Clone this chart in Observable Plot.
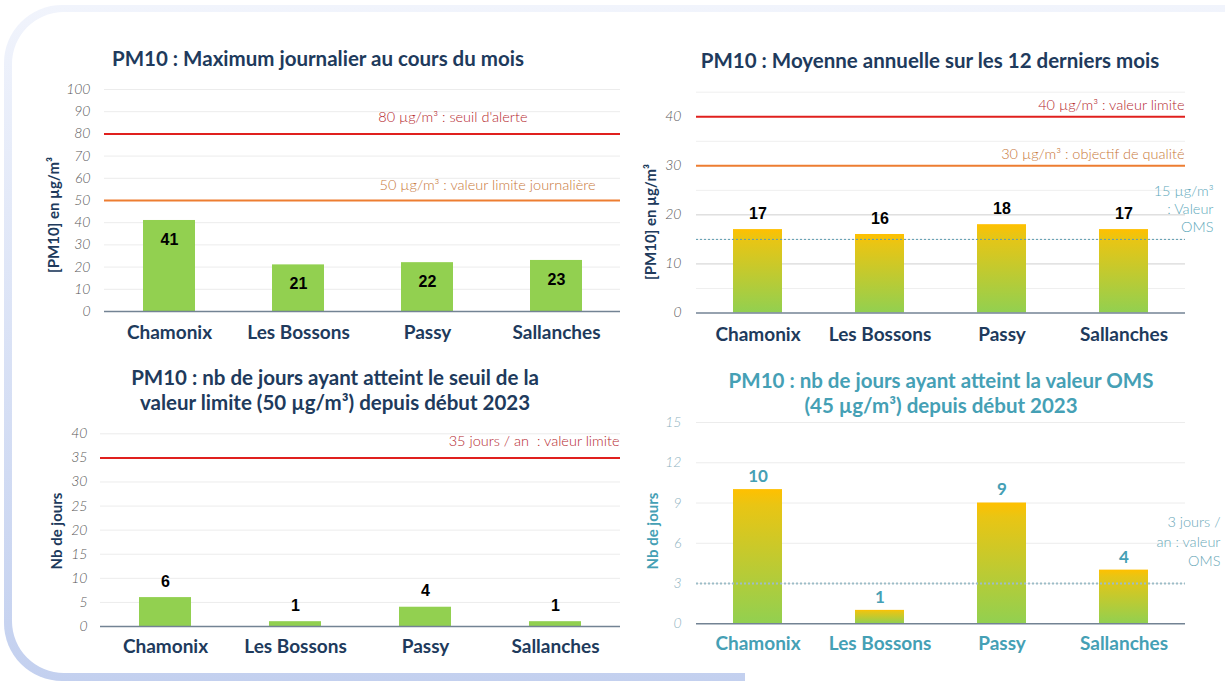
<!DOCTYPE html>
<html><head><meta charset="utf-8">
<script src="https://cdn.jsdelivr.net/npm/d3@7"></script>
<script src="https://cdn.jsdelivr.net/npm/@observablehq/plot@0.6"></script>
<style>
body{margin:0;background:#fff;}
#root{position:relative;width:1225px;height:687px;overflow:hidden;font-family:Lato,"Open Sans",sans-serif;background:#fff;}
.frame-outer{position:absolute;left:4px;top:5px;width:1400px;height:676px;border-radius:58px;background:linear-gradient(#f1f4fc,#c3d0ef);}
.frame-inner{position:absolute;left:12px;top:12px;width:1400px;height:661px;border-radius:52px;background:#fff;}
.frame-cut{position:absolute;left:745px;top:660px;width:500px;height:30px;background:#fff;}
.chart{position:absolute;}
.title{position:absolute;transform:translate(-50%,-50%);white-space:nowrap;font-family:Lato,sans-serif;font-weight:700;font-size:20.5px;color:#203a5c;text-align:center;line-height:25px;}
.ytitle{position:absolute;transform:translate(-50%,-50%) rotate(-90deg);white-space:nowrap;font-family:Lato,sans-serif;font-weight:700;font-size:15px;color:#203a5c;}
</style>
</head><body>
<svg width="0" height="0" style="position:absolute">
  <defs>
    <linearGradient id="gradYG" x1="0" y1="0" x2="0" y2="1">
      <stop offset="0%" stop-color="#ffc000"/>
      <stop offset="12%" stop-color="#e9c514"/>
      <stop offset="100%" stop-color="#92d050"/>
    </linearGradient>
  </defs>
</svg>
<div id="root">
  <div class="frame-outer"></div>
  <div class="frame-inner"></div>
  <div class="frame-cut"></div>
</div>
<script>
// ---- data ----
const stations = ["Chamonix", "Les Bossons", "Passy", "Sallanches"];
const maxJournalier = [41, 21, 22, 23];
const moyenneAnnuelle = [17, 16, 18, 17];
const joursValeurLimite = [6, 1, 4, 1];
const joursOMS = [10, 1, 9, 4];

const ticks1 = [0, 10, 20, 30, 40, 50, 60, 70, 80, 90, 100];
const ticks2 = [0, 10, 20, 30, 40];
const grid2Major = [10, 20];
const grid2Minor = [5, 15, 25, 35, 45];
const ticks3 = [0, 5, 10, 15, 20, 25, 30, 35, 40];
const ticks4 = [0, 3, 6, 9, 12, 15];

const seuils1 = [80, 50];
const seuils1Labels = ["80 µg/m³ : seuil d'alerte", "50 µg/m³ : valeur limite journalière"];
const seuils2 = [40, 30];
const seuils2Labels = ["40 µg/m³ : valeur limite", "30 µg/m³ : objectif de qualité"];
const oms2 = [15];
const oms2Label = ["15 µg/m³\n: Valeur\nOMS"];
const seuils3 = [35];
const seuils3Labels = ["35 jours / an  : valeur limite"];
const oms4 = [3];
const oms4Label = ["3 jours /\nan : valeur\nOMS"];

const titles = [
  "PM10 : Maximum journalier au cours du mois",
  "PM10 : Moyenne annuelle sur les 12 derniers mois",
  "PM10 : nb de jours ayant atteint le seuil de la<br>valeur limite (50 µg/m³) depuis début 2023",
  "PM10 : nb de jours ayant atteint la valeur OMS<br>(45 µg/m³) depuis début 2023"
];
const yTitles = ["[PM10] en µg/m³", "[PM10] en µg/m³", "Nb de jours", "Nb de jours"];

// ---- styles ----
const NAVY = "#203a5c", TEAL = "#45a0b5";
const RED = "#e0201e", RED_TXT = "#b5282e", ORANGE = "#ed7d31", ORANGE_TXT = "#c8783a";
const GRID = "#ececec", AXIS = "#738394";
const tickFont = {fontFamily: "Lato, sans-serif", fontStyle: "italic", fontWeight: 300, fontSize: 14};
const annFont = {fontFamily: "Lato, sans-serif", fontWeight: 300, fontSize: 14.5};
const valFont = {fontFamily: "'Liberation Sans', Arial, sans-serif", fontWeight: 700, fontSize: 16};
const catFont = {fontFamily: "Lato, sans-serif", fontWeight: 700, fontSize: 19};

const rows = vals => stations.map((s, i) => ({station: s, value: vals[i]}));
const root = document.getElementById("root");

function place(el, left, top) {
  const d = document.createElement("div");
  d.className = "chart";
  d.style.left = left + "px";
  d.style.top = top + "px";
  d.appendChild(el);
  root.appendChild(d);
}
function addTitle(html, cx, cy, color) {
  const d = document.createElement("div");
  d.className = "title";
  d.innerHTML = html;
  d.style.left = cx + "px"; d.style.top = cy + "px";
  if (color) d.style.color = color;
  root.appendChild(d);
}
function addYTitle(text, cx, cy, color) {
  const d = document.createElement("div");
  d.className = "ytitle";
  d.textContent = text;
  d.style.left = cx + "px"; d.style.top = cy + "px";
  if (color) d.style.color = color;
  root.appendChild(d);
}
const baseStyle = {background: "transparent", overflow: "visible", fontFamily: "Lato, sans-serif"};

// ---- Panel 1 ----
const p1 = Plot.plot({
  width: 625, height: 280, marginLeft: 104, marginRight: 5, marginTop: 9, marginBottom: 49,
  style: baseStyle,
  x: {domain: stations, range: [104, 620], paddingInner: 0.6, paddingOuter: 0.3, axis: null},
  y: {domain: [0, 100], axis: null},
  marks: [
    Plot.ruleY(ticks1.slice(1), {stroke: GRID}),
    Plot.ruleY(seuils1, {y: d => d, stroke: (d, i) => i === 0 ? RED : ORANGE, strokeWidth: 2}),
    Plot.text(seuils1, {y: d => d, text: (d, i) => seuils1Labels[i], frameAnchor: "right", textAnchor: "end",
      dx: -93, dy: -17, fill: RED_TXT, ...annFont, filter: (d, i) => i === 0}),
    Plot.text(seuils1, {y: d => d, text: (d, i) => seuils1Labels[i], frameAnchor: "right", textAnchor: "end",
      dx: -25, dy: -15, fill: ORANGE_TXT, ...annFont, filter: (d, i) => i === 1}),
    Plot.barY(rows(maxJournalier), {x: "station", y: "value", fill: "#92d050"}),
    Plot.ruleY([0], {stroke: AXIS, strokeWidth: 1.5}),
    Plot.text(rows(maxJournalier), {x: "station", y: "value", text: d => String(d.value), dy: 19, fill: "#000", ...valFont}),
    Plot.text(ticks1, {y: d => d, text: d => String(d), frameAnchor: "left", textAnchor: "end", dx: -14, fill: "#595959", ...tickFont}),
    Plot.text(stations, {x: d => d, text: d => d, frameAnchor: "bottom", dy: 27, fill: NAVY, ...catFont})
  ]
});
place(p1, 0, 80);
addTitle(titles[0], 318, 58);
addYTitle(yTitles[0], 53, 215);

// ---- Panel 2 ----
const p2 = Plot.plot({
  width: 615, height: 280, marginLeft: 86, marginRight: 40, marginTop: 11.7, marginBottom: 47.5,
  style: baseStyle,
  x: {domain: stations, range: [86, 575], paddingInner: 0.6, paddingOuter: 0.3, axis: null},
  y: {domain: [0, 45], axis: null},
  marks: [
    Plot.ruleY(grid2Minor, {stroke: "#efefef"}),
    Plot.ruleY(grid2Major, {stroke: "#cfcfcf"}),
    Plot.ruleY(seuils2, {y: d => d, stroke: (d, i) => i === 0 ? RED : ORANGE, strokeWidth: 2}),
    Plot.text(seuils2, {y: d => d, text: (d, i) => seuils2Labels[i], frameAnchor: "right", textAnchor: "end",
      dx: -1, dy: -11, fill: (d, i) => i === 0 ? RED_TXT : ORANGE_TXT, ...annFont}),
    Plot.barY(rows(moyenneAnnuelle), {x: "station", y: "value", fill: "url(#gradYG)"}),
    Plot.ruleY(oms2, {y: d => d, stroke: "#5b9bb0", strokeWidth: 1, strokeDasharray: "2,2"}),
    Plot.text(oms2, {y: d => d, text: () => oms2Label[0], frameAnchor: "right", textAnchor: "end", lineHeight: 1.25,
      dx: 28, dy: -31, fill: "#5ea9bb", ...annFont}),
    Plot.ruleY([0], {stroke: AXIS, strokeWidth: 1.5}),
    Plot.text(rows(moyenneAnnuelle), {x: "station", y: "value", text: d => String(d.value), dy: -16, fill: "#000", ...valFont}),
    Plot.text(ticks2, {y: d => d, text: d => String(d), frameAnchor: "left", textAnchor: "end", dx: -15, fill: "#595959", ...tickFont}),
    Plot.text(stations, {x: d => d, text: d => d, frameAnchor: "bottom", dy: 27.5, fill: NAVY, ...catFont})
  ]
});
place(p2, 610, 80);
addTitle(titles[1], 930, 60);
addYTitle(yTitles[1], 650, 222);

// ---- Panel 3 ----
const p3 = Plot.plot({
  width: 625, height: 260, marginLeft: 100, marginRight: 5, marginTop: 23.3, marginBottom: 44,
  style: baseStyle,
  x: {domain: stations, range: [100, 620], paddingInner: 0.6, paddingOuter: 0.3, axis: null},
  y: {domain: [0, 40], axis: null},
  marks: [
    Plot.ruleY(ticks3.slice(1), {stroke: GRID}),
    Plot.ruleY(seuils3, {y: d => d, stroke: RED, strokeWidth: 2}),
    Plot.text(seuils3, {y: d => d, text: (d, i) => seuils3Labels[i], frameAnchor: "right", textAnchor: "end",
      dx: -1, dy: -17, fill: RED_TXT, ...annFont}),
    Plot.barY(rows(joursValeurLimite), {x: "station", y: "value", fill: "#92d050"}),
    Plot.ruleY([0], {stroke: AXIS, strokeWidth: 1.5}),
    Plot.text(rows(joursValeurLimite), {x: "station", y: "value", text: d => String(d.value), dy: -16, fill: "#000", ...valFont}),
    Plot.text(ticks3, {y: d => d, text: d => String(d), frameAnchor: "left", textAnchor: "end", dx: -13, fill: "#595959", ...tickFont}),
    Plot.text(stations, {x: d => d, text: d => d, frameAnchor: "bottom", dy: 26, fill: NAVY, ...catFont})
  ]
});
place(p3, 0, 410);
addTitle(titles[2], 335, 389.5);
addYTitle(yTitles[2], 56, 531);

// ---- Panel 4 ----
const p4 = Plot.plot({
  width: 615, height: 260, marginLeft: 86, marginRight: 40, marginTop: 12, marginBottom: 46.7,
  style: baseStyle,
  x: {domain: stations, range: [86, 575], paddingInner: 0.6, paddingOuter: 0.3, axis: null},
  y: {domain: [0, 15], axis: null},
  marks: [
    Plot.ruleY(ticks4.slice(1), {stroke: GRID}),
    Plot.barY(rows(joursOMS), {x: "station", y: "value", fill: "url(#gradYG)"}),
    Plot.ruleY(oms4, {y: d => d, stroke: "#9dbdc8", strokeWidth: 2, strokeDasharray: "2,2"}),
    Plot.text(oms4, {y: d => d, text: () => oms4Label[0], frameAnchor: "right", textAnchor: "end", lineHeight: 1.35,
      dx: 35, dy: -43, fill: "#6aa8b8", ...annFont}),
    Plot.ruleY([0], {stroke: AXIS, strokeWidth: 1.5}),
    Plot.text(rows(joursOMS), {x: "station", y: "value", text: d => String(d.value), dy: -13, fill: TEAL,
      fontFamily: "Lato, sans-serif", fontWeight: 700, fontSize: 17}),
    Plot.text(ticks4, {y: d => d, text: d => String(d), frameAnchor: "left", textAnchor: "end", dx: -15, fill: "#8fb3bf", ...tickFont}),
    Plot.text(stations, {x: d => d, text: d => d, frameAnchor: "bottom", dy: 26, fill: TEAL, ...catFont})
  ]
});
place(p4, 610, 410);
addTitle(titles[3], 941, 392.5, TEAL);
addYTitle(yTitles[3], 651.5, 531, TEAL);
</script>
</body></html>
